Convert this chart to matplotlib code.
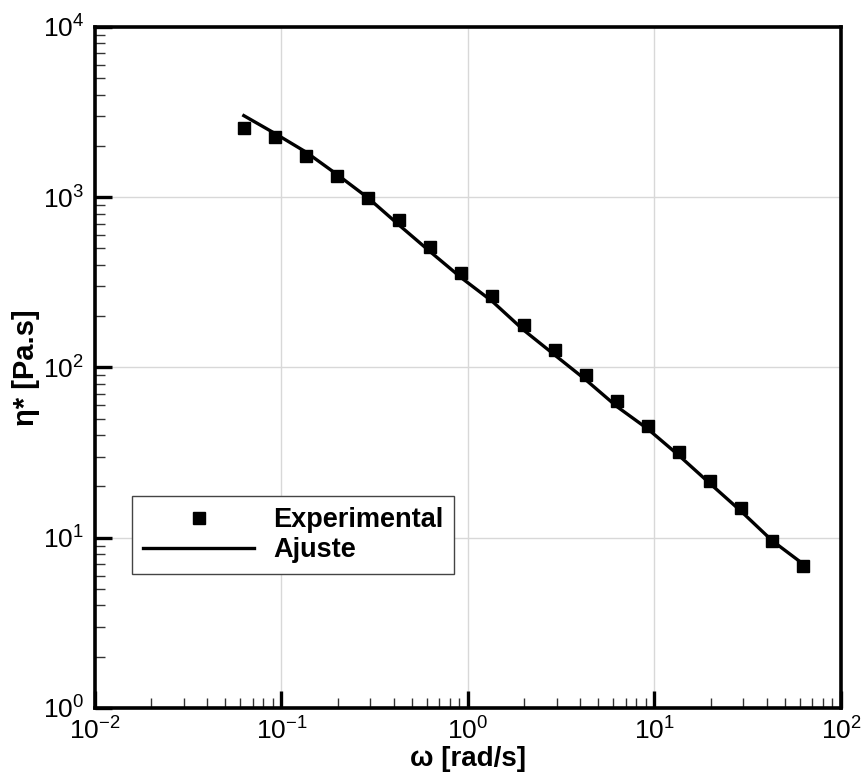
"""Complex viscosity vs angular frequency, experimental points and fitted model."""

import matplotlib

matplotlib.use("Agg")
import matplotlib.pyplot as plt
from matplotlib.ticker import LogLocator, NullFormatter

plt.rcParams["font.family"] = ["Liberation Sans", "DejaVu Sans"]
plt.rcParams["mathtext.fontset"] = "custom"
plt.rcParams["mathtext.rm"] = "Liberation Sans"
plt.rcParams["mathtext.bf"] = "Liberation Sans:bold"

# Angular frequency [rad/s]
omega = [
    0.0628, 0.0922, 0.1353, 0.1986, 0.2915, 0.4279, 0.628, 0.922, 1.353,
    1.986, 2.915, 4.279, 6.28, 9.22, 13.53, 19.86, 29.15, 42.79, 62.8,
]
# Measured complex viscosity [Pa.s]
eta_exp = [
    2560, 2255, 1755, 1340, 996, 731, 508, 357, 262,
    178, 126, 90.5, 63.3, 45.4, 32.1, 21.6, 15.0, 9.57, 6.84,
]
# Fitted model at the same frequencies
eta_fit = [
    3015, 2370, 1842, 1360, 990, 685, 478, 336, 244,
    166, 118.5, 84.7, 59.0, 43.5, 30.4, 20.8, 14.3, 9.6, 7.0,
]

fig = plt.figure(figsize=(8.66, 7.73), dpi=100)
ax = fig.add_axes([0.1097, 0.0841, 0.8614, 0.8810])

ax.plot(omega, eta_exp, "s", color="black", markersize=8, label="Experimental")
ax.plot(omega, eta_fit, "-", color="black", linewidth=2.4, label="Ajuste")

ax.set_xscale("log")
ax.set_yscale("log")
ax.set_xlim(1e-2, 1e2)
ax.set_ylim(1e0, 1e4)

ax.xaxis.set_minor_locator(LogLocator(base=10, subs=range(2, 10)))
ax.yaxis.set_minor_locator(LogLocator(base=10, subs=range(2, 10)))
ax.xaxis.set_minor_formatter(NullFormatter())
ax.yaxis.set_minor_formatter(NullFormatter())

ax.grid(True, which="major", color="#d8d8d8", linewidth=1.0)
ax.set_axisbelow(True)

for side in ax.spines.values():
    side.set_linewidth(2.6)

ax.tick_params(which="major", direction="in", length=12, width=2.4,
               labelsize=19, top=False, right=False)
ax.tick_params(axis="x", which="major", pad=7)
ax.tick_params(axis="y", which="major", pad=8)
ax.tick_params(which="minor", direction="in", length=7, width=1.0,
               color="#333333", top=False, right=False)

ax.set_xlabel("ω [rad/s]", fontsize=20, fontweight="bold", labelpad=1)
ax.set_ylabel("η* [Pa.s]", fontsize=21, fontweight="bold", labelpad=2)

leg = ax.legend(
    loc="upper left",
    bbox_to_anchor=(0.05, 0.311),
    borderaxespad=0,
    fancybox=False,
    framealpha=1,
    edgecolor="#444444",
    handlelength=4.1,
    labelspacing=0.15,
    borderpad=0.4,
    handletextpad=0.7,
    prop={"size": 19.5, "weight": "bold"},
)
leg.get_frame().set_linewidth(1.0)

fig.savefig("out.png", dpi=100)
